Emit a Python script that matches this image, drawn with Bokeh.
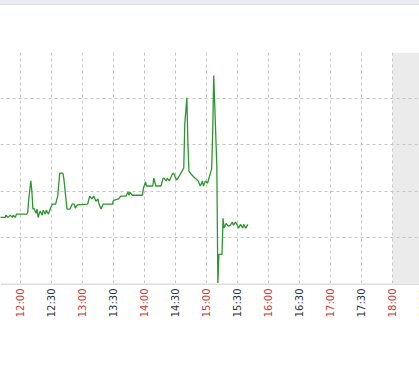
import math
import pandas as pd
from bokeh.plotting import figure
from bokeh.models import (FixedTicker, BoxAnnotation, ColumnDataSource, Div, Range1d, Span)
from bokeh.core.properties import value
from bokeh.layouts import column
from bokeh.embed import file_html
from bokeh.resources import INLINE

DAY = "2024-01-01 "

times = ["11:40", "11:45", "11:46", "11:48", "11:50", "11:52", "11:53", "11:55", "11:56",
         "12:06", "12:07", "12:08", "12:10", "12:11", "12:12", "12:13", "12:15", "12:16",
         "12:17", "12:19", "12:21", "12:22", "12:24", "12:25", "12:27", "12:29", "12:31",
         "12:34", "12:36", "12:38", "12:41", "12:42", "12:44", "12:45", "12:48", "12:50",
         "12:52", "12:53", "12:55", "13:05", "13:07", "13:09", "13:11", "13:13", "13:15",
         "13:16", "13:18", "13:20", "13:29", "13:30", "13:35", "13:37", "13:42", "13:44",
         "13:45", "13:46", "13:48", "13:58", "13:59", "14:01", "14:02", "14:08", "14:09",
         "14:11", "14:16", "14:18", "14:19", "14:21", "14:22", "14:24", "14:27", "14:28",
         "14:31", "14:33", "14:37", "14:38", "14:39", "14:41", "14:42", "14:43", "14:45",
         "14:48", "14:52", "14:54", "14:56", "14:57", "14:59", "15:01", "15:03", "15:05",
         "15:06", "15:07", "15:08", "15:10", "15:11", "15:12", "15:15", "15:16", "15:17",
         "15:19", "15:21", "15:23", "15:25", "15:26", "15:28", "15:30", "15:31", "15:33",
         "15:35", "15:36", "15:38", "15:40"]
values = [14.3, 14.3, 14.8, 14.3, 14.8, 14.3, 14.8, 14.3, 15.0,
          15.0, 15.4, 18.3, 22.2, 20.0, 16.1, 16.3, 15.2, 16.1,
          14.3, 15.7, 14.8, 15.9, 15.0, 15.9, 15.0, 16.3, 17.2,
          17.2, 18.9, 23.9, 23.9, 22.6, 18.3, 16.1, 16.1, 17.2,
          17.2, 16.3, 17.0, 17.2, 18.9, 18.3, 18.9, 17.8, 18.3,
          17.2, 16.1, 17.2, 17.2, 18.0, 18.3, 18.9, 18.9, 19.8,
          19.1, 19.8, 19.1, 19.1, 20.7, 22.0, 21.1, 21.1, 22.8,
          21.1, 21.1, 22.8, 22.8, 22.2, 22.8, 22.2, 23.7, 23.9,
          22.4, 23.0, 24.6, 25.0, 34.6, 40.2, 30.4, 24.3, 23.7,
          23.0, 22.2, 21.1, 22.2, 21.1, 22.2, 21.7, 23.3, 24.8,
          32.6, 45.0, 38.5, 25.4, 0.0, 6.3, 6.3, 14.1, 12.0,
          13.0, 12.4, 12.6, 13.3, 12.6, 13.3, 12.6, 12.0, 12.8,
          12.0, 12.8, 12.0, 12.8]

hour_ticks = ["12:00", "13:00", "14:00", "15:00", "16:00", "17:00", "18:00"]
half_ticks = ["12:30", "13:30", "14:30", "15:30", "16:30", "17:30", "18:30"]
y_ticks = [0, 10, 20, 30, 40, 50]
x_window = ["11:40:39", "18:26:08"]
shade_from = "18:00"


def t(s):
    return pd.Timestamp(DAY + s)


def ms(s):
    return t(s).value / 1e6


src = ColumnDataSource(dict(x=[t(s) for s in times], y=values))
xr = Range1d(t(x_window[0]), t(x_window[1]))

# main chart
p = figure(width=419, height=278, x_axis_type="datetime",
           output_backend="svg", toolbar_location=None,
           x_range=xr, y_range=Range1d(y_ticks[0], y_ticks[-1]),
           min_border_top=47, min_border_left=0, min_border_right=0,
           min_border_bottom=0)
p.outline_line_color = None
p.background_fill_color = "white"
p.border_fill_color = "white"

p.yaxis.visible = False
p.yaxis.ticker = FixedTicker(ticks=y_ticks)

all_ticks = sorted([ms(s) for s in hour_ticks + half_ticks])
p.xgrid.ticker = FixedTicker(ticks=all_ticks)
p.xgrid.grid_line_color = "#c6c6c6"
p.xgrid.grid_line_dash = "3 3"
p.ygrid.grid_line_color = "#c6c6c6"
p.ygrid.grid_line_dash = "3 3"

xa = p.xaxis[0]
xa.ticker = FixedTicker(ticks=[])
xa.major_label_standoff = 0
xa.major_tick_out = 0
xa.major_tick_in = 0
xa.minor_tick_out = 0
xa.minor_tick_in = 0
xa.axis_line_color = "#b8bdc2"

shade = BoxAnnotation(left=t(shade_from), fill_color="#ebebeb", fill_alpha=1.0,
                      line_color=None, level="image")
p.add_layout(shade)

p.line("x", "y", source=src, line_color="#2e962e", line_width=1.3)

# tick-label strip beneath the chart (two colours: hours red, half hours dark)
lab = figure(width=419, height=84, x_axis_type="datetime",
             output_backend="svg", toolbar_location=None,
             x_range=xr, y_range=Range1d(84, 0),
             min_border_top=0, min_border_left=0, min_border_right=0,
             min_border_bottom=0)
lab.axis.visible = False
lab.grid.visible = False
lab.outline_line_color = None
lab.background_fill_color = "white"
lab.border_fill_color = "white"
lab.add_layout(Span(location=0.5, dimension="width", line_color="#b8bdc2", line_width=1))

hour_src = ColumnDataSource(dict(x=[t(s) for s in hour_ticks], y=[5] * len(hour_ticks),
                                 text=hour_ticks))
half_src = ColumnDataSource(dict(x=[t(s) for s in half_ticks], y=[5] * len(half_ticks),
                                 text=half_ticks))
for s, col in ((hour_src, "#c93a3a"), (half_src, "#333333")):
    lab.text(x="x", y="y", text="text", source=s, angle=math.pi / 2,
             text_align="right", text_baseline="middle",
             text_font=value("DejaVu Sans"), text_font_size="10px", text_color=col)

top = Div(text="", width=419, height=5, margin=0,
          styles={"background-color": "#e9edf0", "border-bottom": "1px solid #d7dde2",
                  "box-sizing": "border-box"})

layout = column(top, p, lab, spacing=0, margin=0)

open("out.html", "w").write(file_html(layout, INLINE))
